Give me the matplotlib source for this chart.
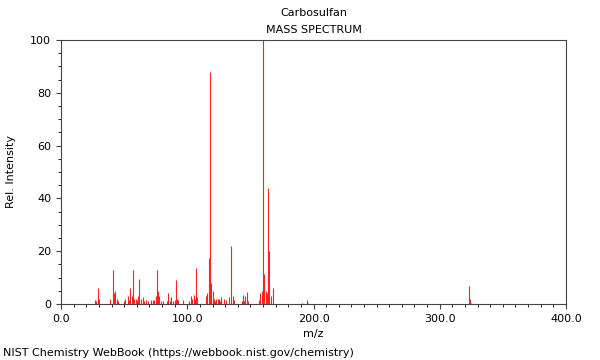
import matplotlib
matplotlib.use("Agg")
import matplotlib.pyplot as plt
from matplotlib.ticker import MultipleLocator

# peaks (m/z, relative intensity)
mz = [27, 28, 29, 30, 39, 41, 42, 43, 44, 45, 50, 51, 53, 54, 55, 56, 57, 58,
      59, 60, 61, 62, 63, 65, 66, 67, 69, 71, 73, 74, 75, 76, 77, 78, 79, 81,
      84, 85, 86, 87, 89, 90, 91, 92, 93, 97, 101, 103, 104, 105, 106, 107,
      108, 115, 116, 117, 118, 119, 120, 121, 122, 123, 124, 125, 126, 127,
      129, 131, 133, 135, 136, 137, 143, 144, 145, 146, 147, 148, 157, 158,
      159, 160, 161, 162, 163, 164, 165, 166, 168, 191, 195, 196, 323, 324, 325]
intensity = [1.5, 1, 6, 2, 2, 13, 4, 5, 2, 1, 1, 2, 3, 1.5, 6, 3, 13, 2,
             2, 1.5, 3, 9.5, 2, 2.5, 1, 1.5, 1, 1.5, 1.5, 1.5, 3, 13, 5, 3, 1, 1,
             1, 4, 1, 2.5, 1, 1.5, 9, 2, 1.5, 1.5, 1, 3, 2, 3.5, 2, 13.5,
             2.5, 3, 4, 17.5, 88, 8, 5, 2, 1, 2, 2, 2, 1, 2.5,
             2, 1.5, 2.5, 22, 3, 1.5, 1, 3.5, 1, 3, 4.5, 1, 1.5, 4,
             5, 100, 11.5, 5, 4, 44, 20, 3, 6, 0.5, 1.5, 0.5, 7, 2, 0.5]

fig = plt.figure(figsize=(6, 3.6), dpi=100)
ax = fig.add_axes([0.1017, 0.1556, 0.8416, 0.7333])

ax.vlines(mz, 0, intensity, colors='#ff2020', linewidth=0.8)

ax.set_xlim(0, 400)
ax.set_ylim(0, 100)
ax.xaxis.set_major_locator(MultipleLocator(100))
ax.xaxis.set_minor_locator(MultipleLocator(10))
ax.yaxis.set_major_locator(MultipleLocator(20))
ax.yaxis.set_minor_locator(MultipleLocator(5))
ax.xaxis.set_major_formatter(matplotlib.ticker.FormatStrFormatter('%.1f'))
ax.tick_params(labelsize=8, color='#444444')
for s in ax.spines.values():
    s.set_color('#444444')

ax.set_xlabel('m/z', fontsize=8)
ax.set_ylabel('Rel. Intensity', fontsize=8, labelpad=10)

fig.text(0.523, 0.963, 'Carbosulfan', ha='center', va='center', fontsize=8)
fig.text(0.523, 0.916, 'MASS SPECTRUM', ha='center', va='center', fontsize=8)
fig.text(0.005, 0.02, 'NIST Chemistry WebBook (https://webbook.nist.gov/chemistry)',
         ha='left', va='center', fontsize=8)

fig.savefig('out.png', dpi=100)
